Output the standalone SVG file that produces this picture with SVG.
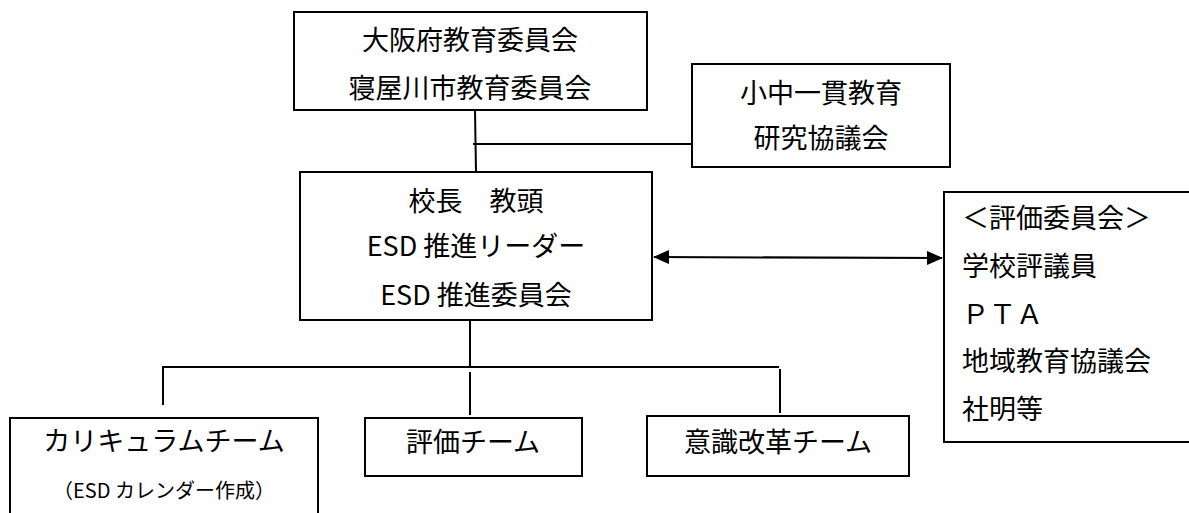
<svg xmlns="http://www.w3.org/2000/svg" width="1189" height="513" viewBox="0 0 1189 513">
<style>
.box{fill:#fff;stroke:#000;stroke-width:2}
.ln{stroke:#000;stroke-width:2;fill:none}
text{font-family:"Noto Sans CJK JP","Liberation Sans",sans-serif;font-size:27px;fill:#000}
.c{text-anchor:middle}
.s{font-size:20px}
</style>
<defs>
<marker id="ah" markerWidth="16" markerHeight="14" refX="15" refY="7" orient="auto-start-reverse" markerUnits="userSpaceOnUse">
<path d="M0,0 L16,7 L0,14 Z" fill="#000"/>
</marker>
</defs>
<g id="connectors">
<line class="ln" x1="475" y1="110" x2="476" y2="172"/>
<line class="ln" x1="473" y1="144" x2="692" y2="144"/>
<line class="ln" x1="470" y1="320" x2="470" y2="367"/>
<line class="ln" x1="162" y1="367" x2="779" y2="367"/>
<line class="ln" x1="163" y1="367" x2="163" y2="405"/>
<line class="ln" x1="470" y1="372" x2="470" y2="415"/>
<line class="ln" x1="780" y1="369" x2="780" y2="413"/>
<line class="ln" x1="654" y1="257" x2="942" y2="258" marker-start="url(#ah)" marker-end="url(#ah)"/>
</g>
<g id="n-board">
<rect class="box" x="294" y="12" width="353" height="98"/>
<text class="c" x="470" y="50">大阪府教育委員会</text>
<text class="c" x="470" y="98">寝屋川市教育委員会</text>
</g>
<g id="n-council">
<rect class="box" x="692" y="64" width="258" height="103"/>
<text class="c" x="821" y="103">小中一貫教育</text>
<text class="c" x="821" y="148">研究協議会</text>
</g>
<g id="n-principal">
<rect class="box" x="300" y="172" width="352" height="148"/>
<text class="c" x="476" y="211">校長　教頭</text>
<text class="c" x="476" y="256">ESD 推進リーダー</text>
<text class="c" x="476" y="305">ESD 推進委員会</text>
</g>
<g id="n-eval-committee">
<rect class="box" x="944" y="192" width="250" height="250"/>
<text x="962" y="228">＜評価委員会＞</text>
<text x="962" y="276">学校評議員</text>
<text x="962" y="324">ＰＴＡ</text>
<text x="962" y="371">地域教育協議会</text>
<text x="962" y="419">社明等</text>
</g>
<g id="n-curriculum">
<rect class="box" x="10" y="418" width="308" height="100"/>
<text class="c" x="164" y="451">カリキュラムチーム</text>
<text class="c s" x="164" y="498">（ESD カレンダー作成）</text>
</g>
<g id="n-eval-team">
<rect class="box" x="365" y="418" width="217" height="58"/>
<text class="c" x="473" y="452">評価チーム</text>
</g>
<g id="n-awareness">
<rect class="box" x="647" y="416" width="262" height="60"/>
<text class="c" x="778" y="452">意識改革チーム</text>
</g>
</svg>
